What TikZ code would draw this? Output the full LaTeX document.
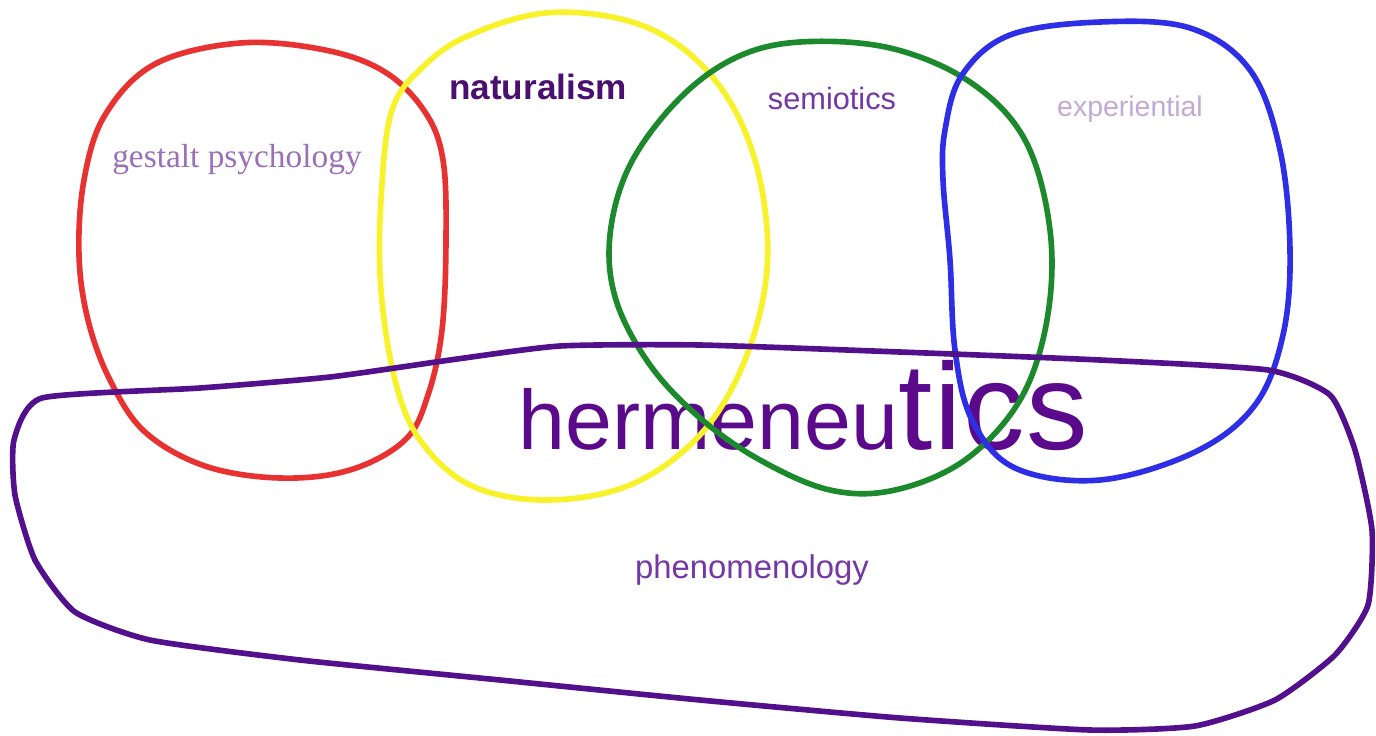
\documentclass[tikz,border=0pt]{standalone}
\usepackage{fontspec}
\setmainfont{Liberation Serif}
\setsansfont{Liberation Sans}
\definecolor{loopred}{HTML}{E83232}
\definecolor{loopyellow}{HTML}{F8F22A}
\definecolor{loopgreen}{HTML}{1C8A2C}
\definecolor{loopblue}{HTML}{2E2EE6}
\definecolor{loopviolet}{HTML}{52108C}
\definecolor{txtdark}{HTML}{4A1070}
\definecolor{txtmid}{HTML}{7438A6}
\definecolor{txtlight}{HTML}{C2AAD6}
\definecolor{txtgestalt}{HTML}{9A70B8}
\definecolor{txtherm}{HTML}{5C0A8C}
\tikzset{
  field/.style={line width=3.2pt, line join=round},
  lbl/.style={inner sep=0pt, anchor=base, font=\sffamily}
}
\begin{document}
\begin{tikzpicture}[x=0.02cm, y=-0.02cm]
  \useasboundingbox[fill=white] (0,0) rectangle (1376,735);

  % labels (under the loops)
  \node[lbl, font=\rmfamily\fontsize{19}{19}\selectfont, text=txtgestalt] (gestalt) at (237,167) {gestalt psychology};
  \node[lbl, font=\sffamily\bfseries\fontsize{20}{20}\selectfont, text=txtdark] (naturalism) at (538,99) {naturalism};
  \node[lbl, font=\sffamily\fontsize{17.5}{17.5}\selectfont, text=txtmid] (semiotics) at (832,109) {semiotics};
  \node[lbl, font=\sffamily\fontsize{16.2}{16.2}\selectfont, text=txtlight] (experiential) at (1130,116) {experiential};
  \node[lbl, font=\sffamily\fontsize{18.7}{18.7}\selectfont, text=txtmid] (phenomenology) at (752,578) {phenomenology};
  \node[lbl, anchor=base west, text=txtherm] (hermeneutics) at (518,449)
    {\fontsize{48}{48}\selectfont hermeneu\fontsize{70}{70}\selectfont t\kern1pt i\kern1pt c\kern1pt s};

  % red loop (gestalt)
  \draw[field, loopred] plot[smooth cycle, tension=0.6] coordinates {
    (105,115) (155,64) (240,43) (325,50) (385,72) (425,112) (443,160)
    (446,240) (442,330) (428,395) (405,440) (350,470) (280,478)
    (205,466) (145,432) (110,380) (88,320) (79,255) (84,180)};

  % yellow loop (naturalism)
  \draw[field, loopyellow] plot[smooth cycle, tension=0.6] coordinates {
    (470,35) (545,13) (625,20) (685,50) (732,105) (760,180) (767,270)
    (745,360) (700,435) (630,485) (545,500) (470,485) (420,440)
    (395,380) (381,290) (381,200) (392,110) (425,65)};

  % green loop (semiotics)
  \draw[field, loopgreen] plot[smooth cycle, tension=0.6] coordinates {
    (800,42) (890,48) (970,82) (1025,140) (1050,230) (1047,320)
    (1020,400) (965,460) (895,490) (830,490) (760,460) (700,418)
    (650,365) (616,300) (610,235) (630,165) (678,100) (735,58)};

  % blue loop (experiential)
  \draw[field, loopblue] plot[smooth cycle, tension=0.6] coordinates {
    (1010,35) (1100,22) (1190,28) (1250,70) (1280,150) (1290,250)
    (1283,335) (1255,405) (1195,452) (1100,480) (1015,468) (972,420)
    (955,350) (950,260) (943,180) (945,130) (962,75)};

  % violet loop (phenomenology)
  \draw[field, loopviolet] plot[smooth cycle, tension=0.35] coordinates {
    (42,398) (200,388) (330,377) (450,360) (560,346) (700,345)
    (900,352) (1100,360) (1268,370) (1330,395) (1355,450) (1372,530)
    (1368,605) (1335,655) (1275,700) (1195,726) (1090,730) (900,718)
    (700,700) (500,680) (300,660) (150,640) (75,612) (35,560)
    (15,495) (14,440)};
\end{tikzpicture}
\end{document}
